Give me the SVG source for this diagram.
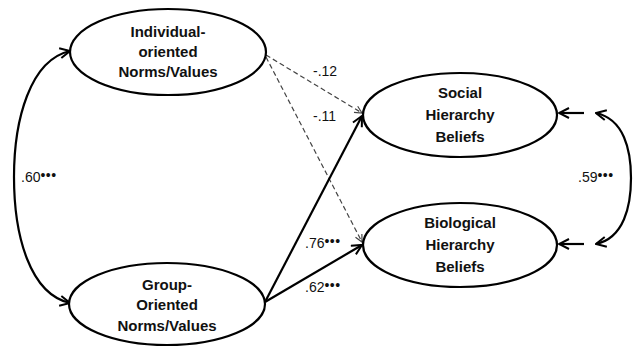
<svg xmlns="http://www.w3.org/2000/svg" width="634" height="348" viewBox="0 0 634 348">
<style>
.node ellipse{fill:#fff;stroke:#000;stroke-width:2.2}
.node text{font-family:"Liberation Sans",Arial,sans-serif;font-weight:bold;font-size:15px;fill:#111;text-anchor:middle}
.lbl{font-family:"Liberation Sans",Arial,sans-serif;font-size:14px;fill:#111}
.dots{font-size:14px;letter-spacing:0.5px}
.solid{fill:none;stroke:#000;stroke-width:2.2}
.dash{fill:none;stroke:#444;stroke-width:1.2;stroke-dasharray:5 3}
</style>
<defs>
<marker id="ah" viewBox="0 0 12 12" refX="11" refY="6" markerWidth="12" markerHeight="12" markerUnits="userSpaceOnUse" orient="auto-start-reverse">
<path d="M1,1 L11,6 L1,11" fill="none" stroke="#000" stroke-width="2"/>
</marker>
<marker id="ahd" viewBox="0 0 10 10" refX="9" refY="5" markerWidth="9" markerHeight="9" markerUnits="userSpaceOnUse" orient="auto">
<path d="M1,1 L9,5 L1,9" fill="none" stroke="#444" stroke-width="1.3"/>
</marker>
</defs>
<g id="connectors">
<path class="solid" d="M70,51 C30,60 14,120 14,177 C14,236 30,294 70,303" marker-start="url(#ah)" marker-end="url(#ah)"/>
<path class="dash" d="M266,55 L362,113" marker-end="url(#ahd)"/>
<path class="dash" d="M266,57 L362,242" marker-end="url(#ahd)"/>
<path class="solid" d="M265,302 L362,116" marker-end="url(#ah)"/>
<path class="solid" d="M265,302 L362,245" marker-end="url(#ah)"/>
<path class="solid" d="M584,113 L559,113" marker-end="url(#ah)"/>
<path class="solid" d="M584,244 L559,244" marker-end="url(#ah)"/>
<path class="solid" d="M596,113 C624,119 631,150 631,178 C631,206 624,238 596,244" marker-start="url(#ah)" marker-end="url(#ah)"/>
<text class="lbl" x="21" y="182">.60<tspan class="dots" dy="-2">•••</tspan></text>
<text class="lbl" x="313" y="76">-.12</text>
<text class="lbl" x="313" y="121">-.11</text>
<text class="lbl" x="305" y="248">.76<tspan class="dots" dy="-2">•••</tspan></text>
<text class="lbl" x="305" y="292">.62<tspan class="dots" dy="-2">•••</tspan></text>
<text class="lbl" x="578" y="182">.59<tspan class="dots" dy="-2">•••</tspan></text>
</g>
<g id="individual" class="node">
<ellipse cx="168" cy="52" rx="98" ry="43"/>
<text x="168" y="37">Individual-</text>
<text x="168" y="57">oriented</text>
<text x="168" y="77">Norms/Values</text>
</g>
<g id="group" class="node">
<ellipse cx="167" cy="304" rx="98" ry="41"/>
<text x="167" y="290">Group-</text>
<text x="167" y="310">Oriented</text>
<text x="167" y="331">Norms/Values</text>
</g>
<g id="social" class="node">
<ellipse cx="460" cy="115" rx="97" ry="42"/>
<text x="460" y="98">Social</text>
<text x="460" y="120">Hierarchy</text>
<text x="460" y="142">Beliefs</text>
</g>
<g id="biological" class="node">
<ellipse cx="460" cy="245" rx="97" ry="42"/>
<text x="460" y="228">Biological</text>
<text x="460" y="250">Hierarchy</text>
<text x="460" y="272">Beliefs</text>
</g>
</svg>
